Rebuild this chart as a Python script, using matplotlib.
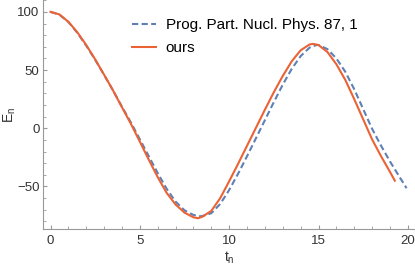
import matplotlib.pyplot as plt
from matplotlib.ticker import MultipleLocator

# values
t_ref = [0, 0.5, 1.0, 1.5, 2.0, 2.5, 3.0, 3.5, 4.0, 4.5, 5.0, 5.5, 6.0, 6.5, 7.0, 7.5, 8.0,
         8.4, 8.5, 9.0, 9.5, 10.0, 10.5, 11.0, 11.5, 12.0, 12.5, 13.0, 13.5, 14.0, 14.5, 14.9,
         15.0, 15.5, 16.0, 16.5, 17.0, 17.5, 18.0, 18.5, 19.0, 19.5, 19.93]
E_ref = [100, 97.6, 91.3, 82, 71, 58.8, 45.8, 32.5, 18.5, 5, -9.5, -24, -38.5, -52, -63, -70.5, -74.5,
         -75.6, -75.4, -73, -65, -53, -39, -24, -8.5, 7, 22.5, 37.5, 51, 62, 69.3, 71.6,
         71.5, 68, 60, 48.5, 33.5, 16.5, -0.5, -15, -28.5, -41, -51.5]

t_ours = [0, 0.5, 1.0, 1.5, 2.0, 2.5, 3.0, 3.5, 4.0, 4.5, 5.0, 5.5, 6.0, 6.5, 7.0, 7.5, 8.0,
          8.25, 8.5, 9.0, 9.5, 10.0, 10.5, 11.0, 11.5, 12.0, 12.5, 13.0, 13.5, 14.0, 14.5, 14.7,
          15.0, 15.5, 16.0, 16.5, 17.0, 17.5, 18.0, 18.5, 19.0, 19.27]
E_ours = [100, 97.8, 91.5, 82.5, 71.5, 59.2, 46, 32.5, 18, 3.8, -11.5, -27, -42, -55.5, -65.5, -72.5, -76.5,
          -77.3, -76, -71, -60, -45.5, -30.5, -15, 0.5, 16, 31, 45, 57.5, 67, 72, 72.5,
          71.5, 65.5, 55, 41.5, 25, 7.7, -9.6, -24, -37.5, -45]

lbl_ref = "Prog. Part. Nucl. Phys. 87, 1"
lbl_ours = "ours"

plt.rcParams['font.family'] = ['Liberation Sans', 'DejaVu Sans']

fig = plt.figure(figsize=(4.15, 2.67), dpi=100)
ax = fig.add_axes([43 / 415, 1 - 229.3 / 267, 372 / 415, 229.3 / 267])

ax.plot(t_ref, E_ref, color='#5E81B5', lw=1.5, dashes=(3, 1.6), label=lbl_ref)
ax.plot(t_ours, E_ours, color='#EB6235', lw=1.5, label=lbl_ours)

ax.set_xlim(-0.42, 20.4)
ax.set_ylim(-86.8, 110.2)
ax.xaxis.set_major_locator(MultipleLocator(5))
ax.xaxis.set_minor_locator(MultipleLocator(1))
ax.yaxis.set_major_locator(MultipleLocator(50))
ax.yaxis.set_minor_locator(MultipleLocator(10))

for s in ['top', 'right']:
    ax.spines[s].set_visible(False)
for s in ['left', 'bottom']:
    ax.spines[s].set_color('#999999')
    ax.spines[s].set_linewidth(0.8)

ax.tick_params(which='major', direction='in', length=3, width=0.8, color='#999999',
               labelsize=9.5, labelcolor='#333333')
ax.tick_params(axis='y', which='major', pad=2.5)
ax.tick_params(axis='x', which='major', pad=4)
ax.tick_params(which='minor', direction='in', length=2, width=0.6, color='#999999')

ax.set_xlabel(r'$\mathregular{t_n}$', fontsize=10, color='#333333', labelpad=2)
ax.set_ylabel(r'$\mathregular{E_n}$', fontsize=10, color='#333333')
ax.yaxis.set_label_coords(-0.068, 0.5)

ax.legend(loc='upper left', bbox_to_anchor=(0.239, 0.922), frameon=False, fontsize=11,
          handlelength=1.6, handletextpad=0.62, labelspacing=0.6,
          borderpad=0, borderaxespad=0)

fig.savefig('out.png', dpi=100)
